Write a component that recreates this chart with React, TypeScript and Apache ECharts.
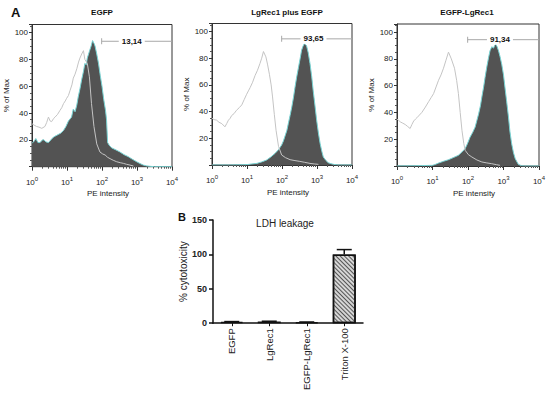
import React, { useEffect, useRef } from "react";
import * as echarts from "echarts";

// ---------- Panel A: flow cytometry histograms (x = log10 PE intensity, y = % of Max)
const panelTitles = ["EGFP", "LgRec1 plus EGFP", "EGFP-LgRec1"];
const decadeTicks = [0, 1, 2, 3, 4];
const gateLabels = ["13,14", "93,65", "91,34"];
const gateStart = [1.99, 1.99, 1.99];
const gateLabelPos = [2.85, 2.9, 2.9];
const gateEnd = [4, 4, 4];
const gateLevel = [93.5, 94.5, 94.3];

const fillEGFP = [
  [0, 17.4], [0.06, 19], [0.11, 21], [0.17, 18], [0.23, 18], [0.3, 20], [0.34, 20], [0.4, 18.5], [0.47, 18],
  [0.54, 20], [0.61, 22], [0.68, 23], [0.75, 24], [0.82, 25], [0.9, 27], [0.97, 30], [1.04, 34], [1.1, 36],
  [1.13, 37], [1.18, 43], [1.23, 41], [1.28, 46], [1.32, 52], [1.37, 58], [1.42, 65], [1.47, 71], [1.51, 77],
  [1.55, 76], [1.58, 81], [1.64, 86], [1.69, 90], [1.73, 94], [1.77, 92], [1.8, 90], [1.85, 84], [1.9, 77],
  [1.95, 68], [2.0, 60], [2.05, 50], [2.1, 42], [2.13, 35], [2.16, 18], [2.22, 15.5], [2.28, 14],
  [2.4, 12.5], [2.51, 11], [2.63, 9], [2.75, 7.5], [2.87, 5.5], [2.99, 3.7], [3.09, 2.3], [3.18, 1.2],
  [3.28, 0.6], [3.37, 0.3], [3.5, 0], [4, 0],
];
const ctrlEGFP = [
  [0, 32], [0.06, 31], [0.13, 30], [0.2, 29.5], [0.28, 28.6], [0.37, 30], [0.42, 33], [0.47, 37], [0.52, 34],
  [0.56, 33.6], [0.62, 36], [0.66, 37], [0.73, 39], [0.8, 42], [0.85, 44], [0.9, 47], [0.95, 49], [0.99, 51],
  [1.04, 53], [1.09, 57], [1.14, 61], [1.18, 66], [1.23, 69], [1.28, 73], [1.33, 78], [1.37, 81], [1.42, 84],
  [1.47, 86.5], [1.51, 80], [1.58, 77], [1.64, 67], [1.7, 47], [1.77, 30], [1.85, 17], [1.94, 11],
  [2.02, 9.5], [2.09, 8.7], [2.16, 7], [2.23, 6], [2.32, 4.8], [2.42, 3.7], [2.52, 3], [2.61, 2.5],
  [2.7, 1.8], [2.8, 1.2], [2.9, 0.5],
];

const fillLgRec1 = [
  [0, 0], [0.5, 0], [1.0, 0.3], [1.14, 0.8], [1.28, 1.2], [1.42, 2.3], [1.56, 3.7], [1.68, 6], [1.8, 8.7],
  [1.9, 11.5], [1.99, 15], [2.04, 18], [2.09, 22], [2.14, 26], [2.18, 31], [2.23, 37], [2.28, 43.5],
  [2.33, 51], [2.37, 58], [2.42, 66], [2.47, 73], [2.52, 80], [2.56, 86], [2.6, 89], [2.64, 91], [2.67, 90],
  [2.7, 89.5], [2.75, 84], [2.8, 76], [2.85, 66], [2.89, 56], [2.94, 45], [2.99, 33.6], [3.04, 24],
  [3.09, 16], [3.14, 10], [3.18, 6], [3.25, 3.5], [3.32, 1.7], [3.4, 1], [3.47, 0.5], [3.6, 0], [4, 0],
];
const ctrlLgRec1 = [
  [0, 35], [0.06, 34], [0.13, 33.6], [0.2, 32], [0.28, 31], [0.37, 28.6], [0.42, 31], [0.47, 33.6],
  [0.52, 35], [0.56, 37], [0.63, 38.5], [0.7, 41], [0.78, 43], [0.85, 45], [0.92, 49], [0.99, 53],
  [1.04, 55.5], [1.09, 58], [1.16, 62], [1.23, 67], [1.3, 71], [1.37, 76], [1.42, 80], [1.47, 85],
  [1.54, 81], [1.59, 75], [1.64, 68], [1.69, 60], [1.73, 51], [1.78, 38], [1.83, 26], [1.9, 14],
  [1.99, 7.5], [2.1, 5.5], [2.23, 4], [2.37, 3.3], [2.51, 2.7], [2.65, 2], [2.8, 1.2], [2.92, 0.8], [3.04, 0.5],
];

const fillEGFPLgRec1 = [
  [0, 0], [0.5, 0.2], [1.0, 0.5], [1.08, 1.2], [1.17, 2.2], [1.31, 3.5], [1.45, 4.7], [1.59, 6.3],
  [1.73, 8], [1.83, 10.5], [1.92, 13], [1.99, 17], [2.06, 21.6], [2.13, 25], [2.2, 29], [2.25, 34],
  [2.3, 39], [2.35, 45], [2.39, 51.5], [2.44, 59], [2.48, 66], [2.53, 74], [2.58, 81], [2.62, 86],
  [2.67, 89], [2.72, 88], [2.75, 90], [2.78, 91], [2.82, 89], [2.86, 86], [2.9, 82], [2.95, 76],
  [3.0, 68], [3.04, 59], [3.09, 48], [3.14, 36.6], [3.18, 26], [3.23, 16.7], [3.28, 10], [3.33, 5.5],
  [3.38, 3], [3.42, 1.2], [3.51, 0.2], [3.6, 0], [4, 0],
];
const ctrlEGFPLgRec1 = [
  [0, 35], [0.05, 34], [0.09, 33], [0.16, 32], [0.23, 31], [0.3, 29.5], [0.37, 28], [0.42, 31],
  [0.47, 33.6], [0.52, 35], [0.56, 36], [0.63, 38], [0.7, 40], [0.8, 44], [0.89, 48], [0.96, 51],
  [1.03, 54], [1.1, 59], [1.17, 64], [1.24, 68], [1.31, 73], [1.38, 79], [1.45, 85], [1.53, 80],
  [1.62, 73], [1.68, 64], [1.73, 54], [1.78, 40], [1.83, 26.6], [1.88, 17], [1.92, 11.7], [2.01, 8.5],
  [2.11, 6.7], [2.25, 4.5], [2.39, 3], [2.53, 2.3], [2.67, 1.7], [2.8, 1], [2.9, 0.5],
];

const fills = [fillEGFP, fillLgRec1, fillEGFPLgRec1];
const controls = [ctrlEGFP, ctrlLgRec1, ctrlEGFPLgRec1];

// ---------- Panel B: LDH leakage
const ldhCategories = ["EGFP", "LgRec1", "EGFP-LgRec1", "Triton X-100"];
const ldhValues = [2, 2.5, 1.5, 100];
const ldhErrors = [0.4, 0.4, 0.3, 7];
const ldhTicks = [0, 50, 100, 150];

const FONT = "Liberation Sans, Arial, Helvetica, sans-serif";

const histGrids = [
  { left: 32, top: 24.5, width: 140, height: 142.2 },
  { left: 212, top: 23.5, width: 140, height: 141.5 },
  { left: 397, top: 24, width: 142, height: 142 },
];
const barGrid = { left: 213, top: 220, width: 150, height: 107.3 };

const minorLogTicks: number[] = [];
for (let d = 0; d < 4; d++) {
  for (let k = 2; k <= 9; k++) minorLogTicks.push(d + Math.log10(k));
}

export default function App() {
  const ref = useRef<HTMLDivElement>(null);

  useEffect(() => {
    document.body.style.margin = "0";
    if (!ref.current) return;
    const chart = echarts.init(ref.current, null, { renderer: "svg" });

    const grids: any[] = histGrids.map((g) => ({ ...g, show: true, borderColor: "#333", borderWidth: 1 }));
    grids.push({ ...barGrid, show: false });

    const xAxes: any[] = [];
    const yAxes: any[] = [];
    const series: any[] = [];

    histGrids.forEach((_, i) => {
      xAxes.push({
        type: "value",
        gridIndex: i,
        min: 0,
        max: 4,
        interval: 1,
        position: "bottom",
        name: "PE intensity",
        nameLocation: "middle",
        nameGap: 23,
        nameTextStyle: { fontFamily: FONT, fontSize: 8, color: "#222", padding: [0, 0, 0, 12] },
        axisLine: { show: true, lineStyle: { color: "#333", width: 1 } },
        axisTick: { show: true, length: 4, lineStyle: { color: "#333" } },
        splitLine: { show: false },
        axisLabel: {
          margin: 9,
          fontFamily: FONT,
          fontSize: 8,
          color: "#222",
          formatter: (v: number) => (decadeTicks.indexOf(v) >= 0 ? `10{s|${v}}` : ""),
          rich: { s: { fontSize: 6, fontFamily: FONT, color: "#222", padding: [0, 0, 7, 0] } },
        },
      });
      xAxes.push({
        type: "value",
        gridIndex: i,
        min: 0,
        max: 4,
        position: "bottom",
        axisLine: { show: false },
        axisLabel: { show: false },
        splitLine: { show: false },
        axisTick: { show: true, length: 2, customValues: minorLogTicks, lineStyle: { color: "#555" } },
      });
      yAxes.push({
        type: "value",
        gridIndex: i,
        min: 0,
        max: 106,
        interval: 20,
        name: "% of Max",
        nameLocation: "middle",
        nameGap: 19,
        nameTextStyle: { fontFamily: FONT, fontSize: 8, color: "#222" },
        axisLine: { show: true, lineStyle: { color: "#333", width: 1 } },
        axisTick: { show: true, length: 3, lineStyle: { color: "#333" } },
        minorTick: { show: true, splitNumber: 4, length: 2, lineStyle: { color: "#555" } },
        splitLine: { show: false },
        axisLabel: {
          margin: 4,
          fontFamily: FONT,
          fontSize: 8,
          color: "#222",
          formatter: (v: number) => (v > 0 && v % 20 === 0 ? String(v) : ""),
        },
      });

      series.push({
        type: "line",
        xAxisIndex: i * 2,
        yAxisIndex: i,
        data: fills[i],
        showSymbol: false,
        symbol: "none",
        lineStyle: { color: "#79d3d3", width: 1 },
        areaStyle: { color: "#535353", opacity: 1 },
        z: 2,
      });
      series.push({
        type: "line",
        xAxisIndex: i * 2,
        yAxisIndex: i,
        data: controls[i],
        showSymbol: false,
        symbol: "none",
        lineStyle: { color: "#c4c4c4", width: 1 },
        z: 3,
      });
      series.push({
        type: "line",
        xAxisIndex: i * 2,
        yAxisIndex: i,
        z: 4,
        lineStyle: { color: "#a8a8a8", width: 1 },
        itemStyle: { color: "#a8a8a8" },
        data: [
          { value: [gateStart[i], gateLevel[i]], symbol: "rect", symbolSize: [1, 6] },
          {
            value: [gateLabelPos[i], gateLevel[i]],
            symbol: "rect",
            symbolSize: 0,
            label: {
              show: true,
              position: "inside",
              formatter: gateLabels[i],
              fontFamily: FONT,
              fontSize: 8,
              fontWeight: "bold",
              color: "#111",
              backgroundColor: "#fff",
              padding: [1, 3],
            },
          },
          { value: [gateEnd[i], gateLevel[i]], symbol: "rect", symbolSize: 0 },
        ],
      });
    });

    // Bar chart axes
    const barXIndex = xAxes.length;
    const barYIndex = yAxes.length;
    xAxes.push({
      type: "category",
      gridIndex: 3,
      data: ldhCategories,
      axisLine: { show: true, lineStyle: { color: "#111", width: 1.5 } },
      axisTick: { show: true, alignWithLabel: true, length: 3, lineStyle: { color: "#111", width: 1 } },
      axisLabel: {
        rotate: 90,
        margin: 5,
        fontFamily: FONT,
        fontSize: 9.5,
        color: "#222",
        interval: 0,
      },
    });
    yAxes.push({
      type: "value",
      gridIndex: 3,
      min: 0,
      max: 150,
      interval: 50,
      name: "% cytotoxicity",
      nameLocation: "middle",
      nameGap: 18,
      nameTextStyle: { fontFamily: FONT, fontSize: 10, color: "#222" },
      axisLine: { show: true, lineStyle: { color: "#111", width: 1.5 } },
      axisTick: { show: true, length: 4, lineStyle: { color: "#111", width: 1.5 } },
      splitLine: { show: false },
      axisLabel: {
        margin: 6,
        fontFamily: FONT,
        fontSize: 9,
        fontWeight: "bold",
        color: "#222",
        formatter: (v: number) => (ldhTicks.indexOf(v) >= 0 ? String(v) : ""),
      },
    });

    series.push({
      type: "bar",
      xAxisIndex: barXIndex,
      yAxisIndex: barYIndex,
      barWidth: 23,
      data: ldhValues.map((v, i) => ({
        value: v,
        itemStyle:
          i === 3
            ? {
                color: "#d6d6d6",
                borderColor: "#111",
                borderWidth: 1.5,
                decal: {
                  symbol: "rect",
                  symbolSize: 1,
                  dashArrayX: [1, 0],
                  dashArrayY: [1, 2],
                  rotation: Math.PI / 4,
                  color: "#555",
                },
              }
            : { color: "#222", borderColor: "#111", borderWidth: 1.5 },
      })),
      z: 2,
    });
    series.push({
      type: "custom",
      xAxisIndex: barXIndex,
      yAxisIndex: barYIndex,
      z: 3,
      data: ldhValues.map((v, i) => [i, v, ldhErrors[i]]),
      renderItem: (params: any, api: any) => {
        const base = api.coord([api.value(0), api.value(1)]);
        const top = api.coord([api.value(0), api.value(1) + api.value(2)]);
        const st = { stroke: "#111", lineWidth: 1.5 };
        return {
          type: "group",
          children: [
            { type: "line", shape: { x1: base[0], y1: base[1], x2: top[0], y2: top[1] }, style: st },
            { type: "line", shape: { x1: top[0] - 7.5, y1: top[1], x2: top[0] + 7.5, y2: top[1] }, style: st },
          ],
        };
      },
    });

    const titleX = [102, 287, 467];
    const graphic: any[] = [
      { type: "text", x: 11, y: 12, style: { text: "A", font: `bold 13px ${FONT}`, fill: "#111", textAlign: "left", textVerticalAlign: "middle" } },
      ...panelTitles.map((t, i) => ({
        type: "text",
        x: titleX[i],
        y: 12.5,
        style: { text: t, font: `bold 8px ${FONT}`, fill: "#111", textAlign: "center", textVerticalAlign: "middle" },
      })),
      { type: "text", x: 178, y: 217, style: { text: "B", font: `bold 11px ${FONT}`, fill: "#111", textAlign: "left", textVerticalAlign: "middle" } },
      { type: "text", x: 285, y: 223, style: { text: "LDH leakage", font: `10px ${FONT}`, fill: "#222", textAlign: "center", textVerticalAlign: "middle" } },
    ];

    chart.setOption({
      animation: false,
      backgroundColor: "#fff",
      grid: grids,
      xAxis: xAxes,
      yAxis: yAxes,
      series,
      graphic,
    });

    return () => chart.dispose();
  }, []);

  return <div ref={ref} style={{ width: 550, height: 393 }} />;
}
